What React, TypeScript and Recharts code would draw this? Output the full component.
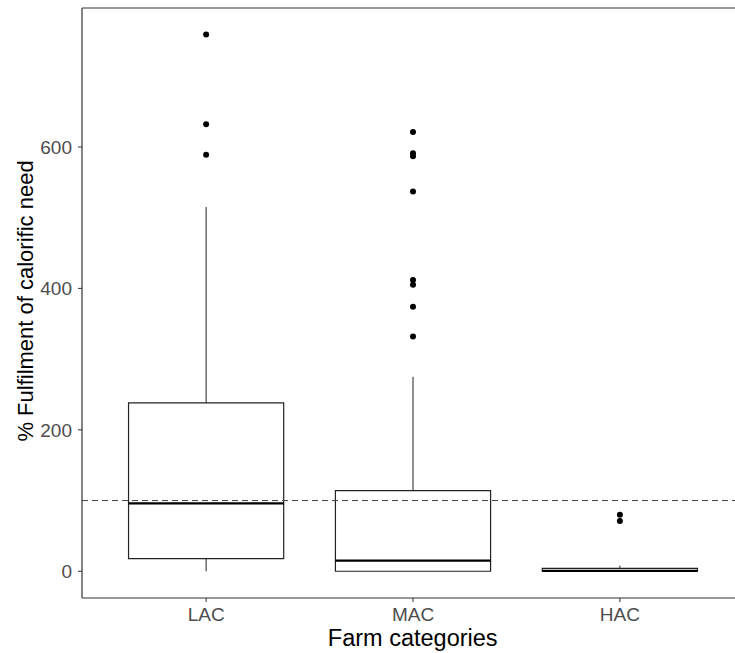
import React from 'react';
import {
  ComposedChart, XAxis, YAxis, Scatter, ReferenceArea, ReferenceLine
} from 'recharts';

const categories = ['LAC', 'MAC', 'HAC'];
const whiskerLow = [0, 0, 0];
const q1 = [18, 0, 0];
const median = [96, 15, 0.6];
const q3 = [238, 114, 4];
const whiskerHigh = [515, 275, 8];
const outliers = [
  [759, 632, 589],
  [621, 591, 587, 537, 412, 405, 374, 332],
  [80, 71],
];
const yTicks = [0, 200, 400, 600];
const threshold = 100;

const Y_MIN = -37.8;
const Y_MAX = 796.5;
const X_MIN = 0.4;
const X_MAX = 3.6;
const HALF = 0.375;

const font = '"Liberation Sans", Arial, sans-serif';

const outlierData = outliers.flatMap((vals, i) => vals.map(v => ({ x: i + 1, y: v })));

const App = () => {
  return (
    <div style={{ width: 735, height: 653, overflow: 'hidden', background: '#fff', position: 'relative' }}>
      <style>{'body{margin:0;overflow:hidden}'}</style>
      <ComposedChart
        width={744}
        height={653}
        margin={{ top: 8, right: 0, left: 0, bottom: 0 }}
        style={{ fontFamily: font, outline: 'none' }}
        accessibilityLayer={false}
      >
        <XAxis
          type="number"
          dataKey="x"
          domain={[X_MIN, X_MAX]}
          ticks={[1, 2, 3]}
          tickFormatter={(v: number) => categories[v - 1]}
          allowDataOverflow
          height={55}
          axisLine={{ stroke: '#333', strokeWidth: 1.2 }}
          tickLine={{ stroke: '#333' }}
          tickSize={4}
          tickMargin={6}
          tick={{ fontSize: 19, fill: '#4d4d4d', fontFamily: font }}
          label={{
            content: () => (
              <text x={412.7} y={646} textAnchor="middle" fontSize={23.5} fill="#000" fontFamily={font}>
                Farm categories
              </text>
            ),
          }}
        />
        <YAxis
          type="number"
          dataKey="y"
          domain={[Y_MIN, Y_MAX]}
          ticks={yTicks}
          allowDataOverflow
          width={82}
          axisLine={{ stroke: '#333', strokeWidth: 1.2 }}
          tickLine={{ stroke: '#333' }}
          tickSize={4}
          tickMargin={6}
          tick={{ fontSize: 19, fill: '#4d4d4d', fontFamily: font }}
          label={{
            content: () => (
              <text
                x={25}
                y={301}
                transform="rotate(-90 25 301)"
                textAnchor="middle"
                dominantBaseline="central"
                fontSize={22}
                fill="#000"
                fontFamily={font}
              >
                % Fulfilment of calorific need
              </text>
            ),
          }}
        />

        {/* top border of panel */}
        <ReferenceLine
          segment={[{ x: X_MIN, y: Y_MAX }, { x: X_MAX, y: Y_MAX }]}
          stroke="#333"
          strokeWidth={1.2}
          ifOverflow="visible"
        />

        {categories.map((c, i) => (
          <ReferenceLine
            key={c + '-wl'}
            segment={[{ x: i + 1, y: whiskerLow[i] }, { x: i + 1, y: q1[i] }]}
            stroke="#222"
          />
        ))}
        {categories.map((c, i) => (
          <ReferenceLine
            key={c + '-wh'}
            segment={[{ x: i + 1, y: q3[i] }, { x: i + 1, y: whiskerHigh[i] }]}
            stroke="#222"
          />
        ))}
        {categories.map((c, i) => (
          <ReferenceArea
            key={c + '-box'}
            x1={i + 1 - HALF}
            x2={i + 1 + HALF}
            y1={q1[i]}
            y2={q3[i]}
            fill="none"
            stroke="#222"
            strokeWidth={1.2}
          />
        ))}
        {categories.map((c, i) => (
          <ReferenceLine
            key={c + '-med'}
            segment={[{ x: i + 1 - HALF, y: median[i] }, { x: i + 1 + HALF, y: median[i] }]}
            stroke="#000"
            strokeWidth={2.2}
          />
        ))}

        <ReferenceLine y={threshold} stroke="#444" strokeDasharray="6 4" />

        <Scatter data={outlierData} fill="#000" isAnimationActive={false} shape={(p: any) => (
          <circle cx={p.cx} cy={p.cy} r={3} fill="#000" />
        )} />
      </ComposedChart>
    </div>
  );
};

export default App;
